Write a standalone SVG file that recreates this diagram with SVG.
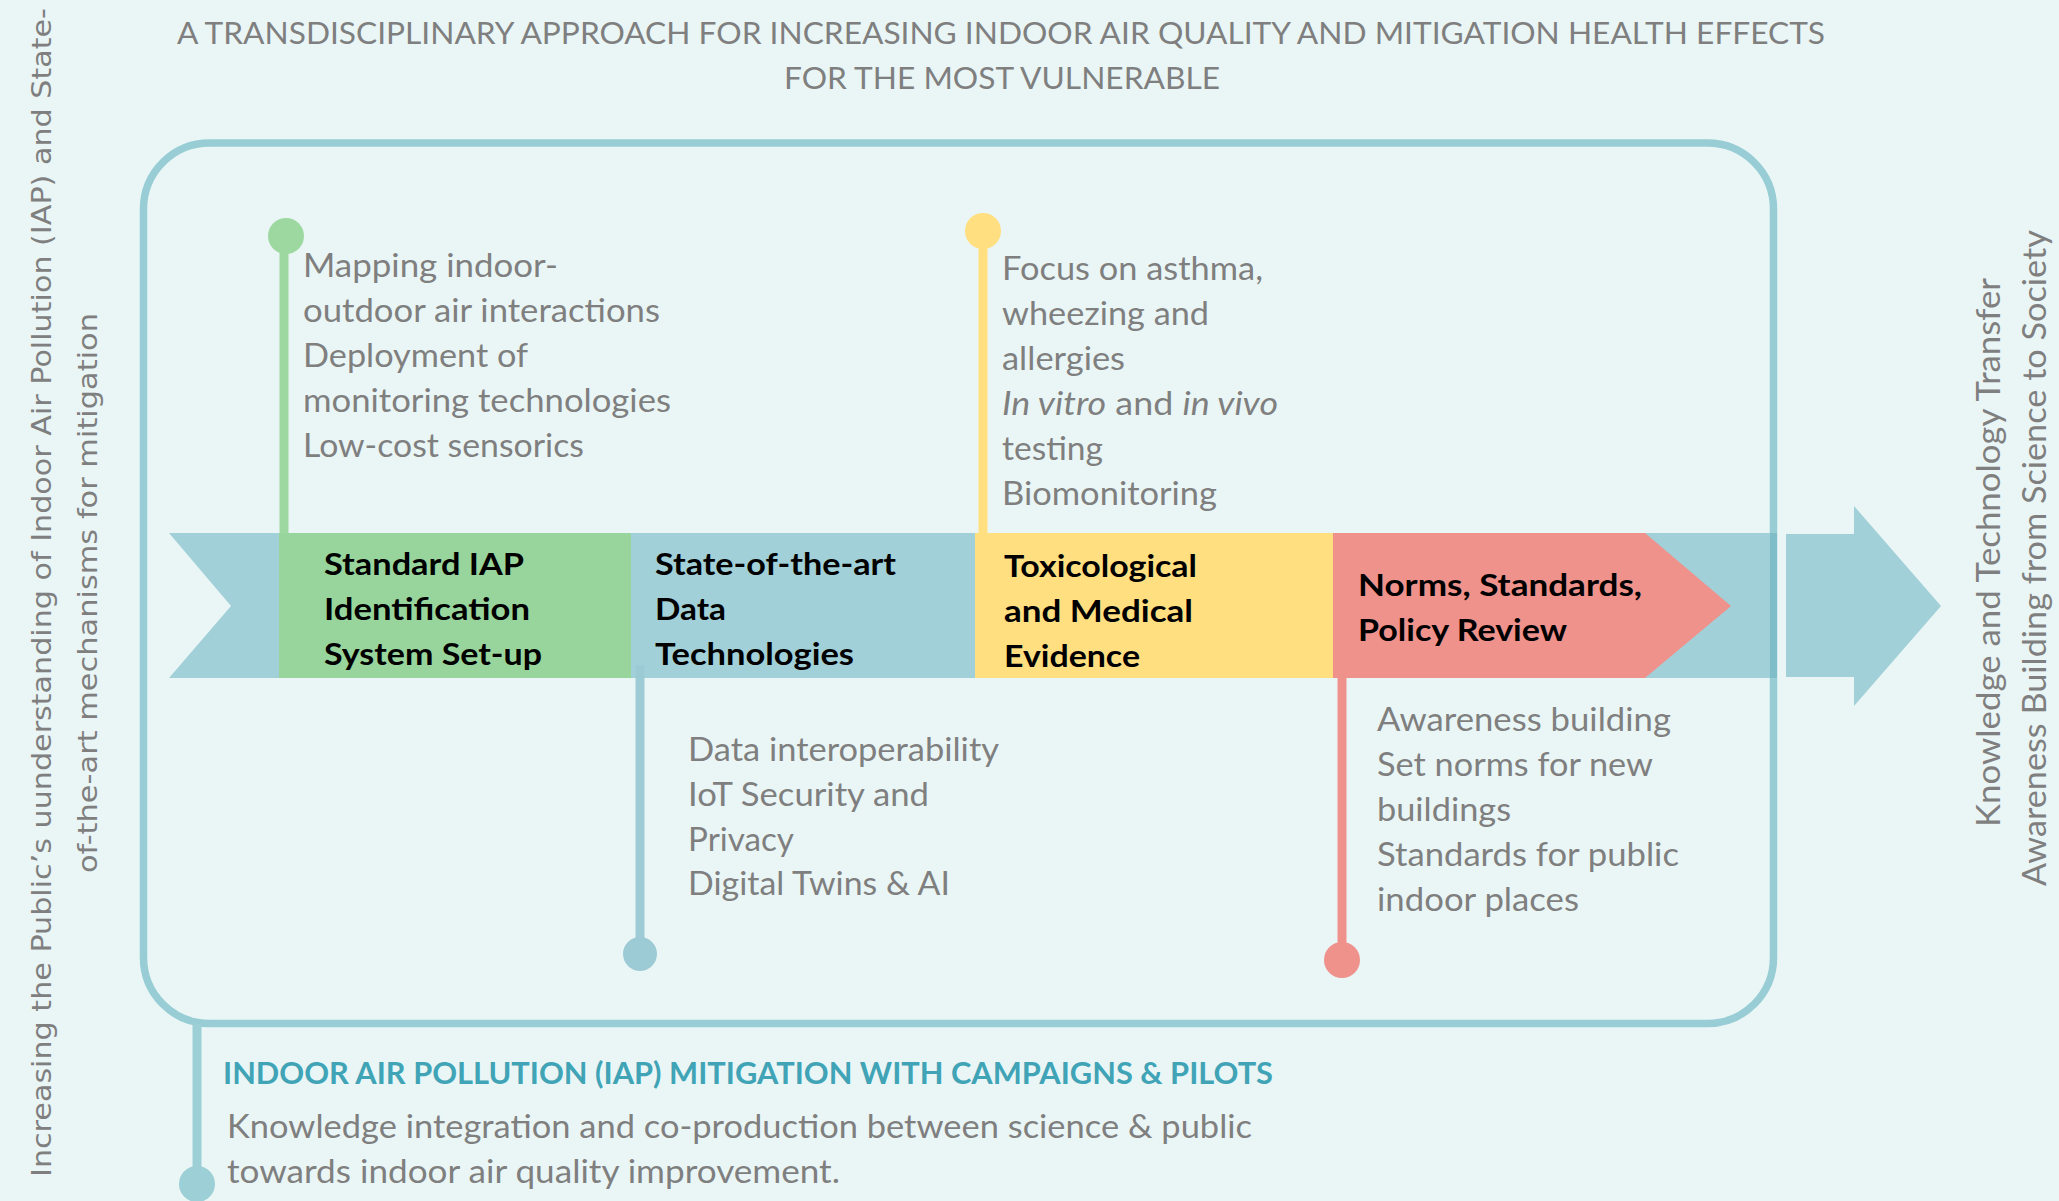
<svg xmlns="http://www.w3.org/2000/svg" width="2059" height="1201" viewBox="0 0 2059 1201">
<style>
.t{font-family:Lato,"Liberation Sans",sans-serif;fill:#7f7f7f;font-size:33px}
.ttl{font-family:Lato,"Liberation Sans",sans-serif;fill:#7f7f7f;font-size:30px}
.b{font-family:Lato,"Liberation Sans",sans-serif;fill:#000;font-size:31px;font-weight:bold}
.h{font-family:Lato,"Liberation Sans",sans-serif;fill:#40a4b6;font-size:31px;font-weight:bold}
.v{font-family:"DejaVu Sans",sans-serif;fill:#7f7f7f;font-size:27px}
.i{font-style:italic}
</style>
<rect width="2059" height="1201" fill="#eaf6f6"/>
<g id="title">
<text class="ttl" x="177" y="44" textLength="1648" lengthAdjust="spacingAndGlyphs">A TRANSDISCIPLINARY APPROACH FOR INCREASING INDOOR AIR QUALITY AND MITIGATION HEALTH EFFECTS</text>
<text class="ttl" x="784" y="89" textLength="436" lengthAdjust="spacingAndGlyphs">FOR THE MOST VULNERABLE</text>
</g>
<g id="left-label">
<text class="v" transform="translate(51,592.5) rotate(-90)" text-anchor="middle" textLength="1169" lengthAdjust="spacingAndGlyphs">Increasing the Public’s uunderstanding of Indoor Air Pollution (IAP) and State-</text>
<text class="v" transform="translate(97,593) rotate(-90)" text-anchor="middle" textLength="560" lengthAdjust="spacingAndGlyphs">of-the-art mechanisms for mitigation</text>
</g>
<g id="right-label">
<text class="t" transform="translate(2000,827) rotate(-90)" textLength="549" lengthAdjust="spacingAndGlyphs">Knowledge and Technology Transfer</text>
<text class="t" transform="translate(2046,886) rotate(-90)" textLength="656" lengthAdjust="spacingAndGlyphs">Awareness Building from Science to Society</text>
</g>
<g id="frame">
<polygon points="169,533 1776,533 1776,678 169,678 231,606" fill="#a1d0d8"/>
<rect x="143.5" y="143" width="1630" height="880.5" rx="66" ry="66" fill="none" stroke="#98cdd5" stroke-width="7.5"/>
<rect x="1770" y="533" width="7" height="145" fill="#7fbdc8"/>
<polygon points="1786,534 1854,534 1854,506 1941,606 1854,706 1854,677 1786,677" fill="#a1d0d8"/>
</g>
<g id="connectors">
<line x1="284" y1="236" x2="284" y2="533" stroke="#9ed8a1" stroke-width="9"/>
<circle cx="286" cy="236" r="18" fill="#9ed8a1"/>
<line x1="983" y1="231" x2="983" y2="533" stroke="#ffdf80" stroke-width="9"/>
<circle cx="983" cy="231" r="18" fill="#ffdf80"/>
<line x1="640" y1="665" x2="640" y2="954" stroke="#9ccbd6" stroke-width="9"/>
<circle cx="640" cy="954" r="17" fill="#9ccbd6"/>
<line x1="1342" y1="678" x2="1342" y2="960" stroke="#ef928b" stroke-width="9"/>
<circle cx="1342" cy="960" r="18" fill="#ef928b"/>
<line x1="197" y1="1024" x2="197" y2="1184" stroke="#9ccfd6" stroke-width="9"/>
<circle cx="197" cy="1184" r="18" fill="#9ccfd6"/>
</g>
<g id="node-standard">
<rect x="279" y="533" width="352" height="145" fill="#98d59c"/>
<text class="b" x="324" y="575" textLength="200" lengthAdjust="spacingAndGlyphs">Standard IAP</text>
<text class="b" x="324" y="620" textLength="206" lengthAdjust="spacingAndGlyphs">Identification</text>
<text class="b" x="324" y="665" textLength="218" lengthAdjust="spacingAndGlyphs">System Set-up</text>
</g>
<g id="node-data">
<text class="b" x="655" y="575" textLength="241" lengthAdjust="spacingAndGlyphs">State-of-the-art</text>
<text class="b" x="655" y="620" textLength="71" lengthAdjust="spacingAndGlyphs">Data</text>
<text class="b" x="655" y="665" textLength="199" lengthAdjust="spacingAndGlyphs">Technologies</text>
</g>
<g id="node-tox">
<rect x="975" y="533" width="358" height="145" fill="#ffdf80"/>
<text class="b" x="1004" y="577" textLength="193" lengthAdjust="spacingAndGlyphs">Toxicological</text>
<text class="b" x="1004" y="622" textLength="189" lengthAdjust="spacingAndGlyphs">and Medical</text>
<text class="b" x="1004" y="667" textLength="136" lengthAdjust="spacingAndGlyphs">Evidence</text>
</g>
<g id="node-norms">
<polygon points="1333,533 1645,533 1731,606 1645,678 1333,678" fill="#ef928b"/>
<text class="b" x="1358" y="596" textLength="284" lengthAdjust="spacingAndGlyphs">Norms, Standards,</text>
<text class="b" x="1358" y="641" textLength="209" lengthAdjust="spacingAndGlyphs">Policy Review</text>
</g>
<g id="notes-green">
<text class="t" x="303" y="277" textLength="255" lengthAdjust="spacingAndGlyphs">Mapping indoor-</text>
<text class="t" x="303" y="322" textLength="357" lengthAdjust="spacingAndGlyphs">outdoor air interactions</text>
<text class="t" x="303" y="367" textLength="225" lengthAdjust="spacingAndGlyphs">Deployment of</text>
<text class="t" x="303" y="412" textLength="368" lengthAdjust="spacingAndGlyphs">monitoring technologies</text>
<text class="t" x="303" y="457" textLength="281" lengthAdjust="spacingAndGlyphs">Low-cost sensorics</text>
</g>
<g id="notes-yellow">
<text class="t" x="1002" y="280" textLength="261" lengthAdjust="spacingAndGlyphs">Focus on asthma,</text>
<text class="t" x="1002" y="325" textLength="207" lengthAdjust="spacingAndGlyphs">wheezing and</text>
<text class="t" x="1002" y="370" textLength="123" lengthAdjust="spacingAndGlyphs">allergies</text>
<text class="t" x="1002" y="415" textLength="276" lengthAdjust="spacingAndGlyphs"><tspan class="i">In vitro</tspan> and <tspan class="i">in vivo</tspan></text>
<text class="t" x="1002" y="460" textLength="101" lengthAdjust="spacingAndGlyphs">testing</text>
<text class="t" x="1002" y="505" textLength="215" lengthAdjust="spacingAndGlyphs">Biomonitoring</text>
</g>
<g id="notes-blue">
<text class="t" x="688" y="761" textLength="311" lengthAdjust="spacingAndGlyphs">Data interoperability</text>
<text class="t" x="688" y="806" textLength="241" lengthAdjust="spacingAndGlyphs">IoT Security and</text>
<text class="t" x="688" y="851" textLength="106" lengthAdjust="spacingAndGlyphs">Privacy</text>
<text class="t" x="688" y="895" textLength="262" lengthAdjust="spacingAndGlyphs">Digital Twins &amp; AI</text>
</g>
<g id="notes-red">
<text class="t" x="1377" y="731" textLength="294" lengthAdjust="spacingAndGlyphs">Awareness building</text>
<text class="t" x="1377" y="776" textLength="276" lengthAdjust="spacingAndGlyphs">Set norms for new</text>
<text class="t" x="1377" y="821" textLength="134" lengthAdjust="spacingAndGlyphs">buildings</text>
<text class="t" x="1377" y="866" textLength="302" lengthAdjust="spacingAndGlyphs">Standards for public</text>
<text class="t" x="1377" y="911" textLength="202" lengthAdjust="spacingAndGlyphs">indoor places</text>
</g>
<g id="bottom">
<text class="h" x="223" y="1084" textLength="1050" lengthAdjust="spacingAndGlyphs">INDOOR AIR POLLUTION (IAP) MITIGATION WITH CAMPAIGNS &amp; PILOTS</text>
<text class="t" x="227" y="1138" textLength="1025" lengthAdjust="spacingAndGlyphs">Knowledge integration and co-production between science &amp; public</text>
<text class="t" x="227" y="1183" textLength="613" lengthAdjust="spacingAndGlyphs">towards indoor air quality improvement.</text>
</g>
</svg>
